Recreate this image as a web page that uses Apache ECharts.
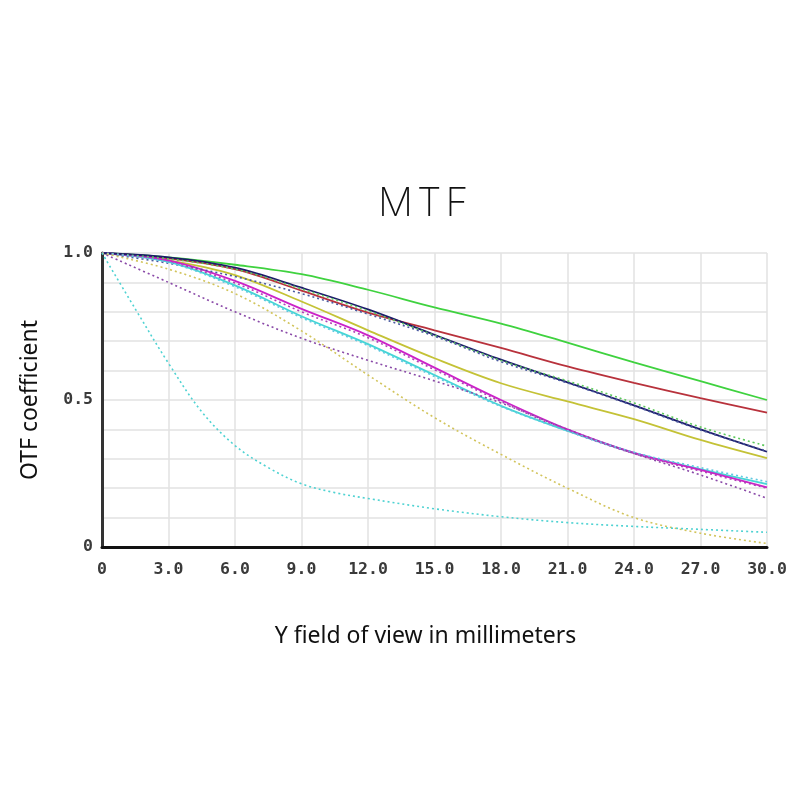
<!DOCTYPE html>
<html>
<head>
<meta charset="utf-8">
<script src="https://cdn.jsdelivr.net/npm/echarts@6/dist/echarts.min.js"></script>
<style>html,body{margin:0;padding:0;background:#fff}#c{width:810px;height:810px}</style>
</head>
<body>
<div id="c"></div>
<script>
// field positions (mm)
const fieldX = [0, 3, 6, 9, 12, 15, 18, 21, 24, 27, 30];
// solid curves
const greenSolid   = [1.0, 0.985, 0.96, 0.928, 0.875, 0.815, 0.76, 0.695, 0.628, 0.564, 0.50];
const redSolid     = [1.0, 0.982, 0.945, 0.872, 0.797, 0.737, 0.677, 0.614, 0.558, 0.506, 0.457];
const navySolid    = [1.0, 0.985, 0.95, 0.882, 0.808, 0.722, 0.637, 0.56, 0.482, 0.40, 0.324];
const oliveSolid   = [1.0, 0.975, 0.925, 0.835, 0.737, 0.642, 0.557, 0.495, 0.435, 0.364, 0.302];
const magentaSolid = [1.0, 0.975, 0.905, 0.81, 0.72, 0.61, 0.50, 0.40, 0.32, 0.262, 0.203];
const cyanSolid    = [1.0, 0.97, 0.89, 0.785, 0.69, 0.585, 0.48, 0.395, 0.32, 0.265, 0.214];
// dotted curves
const greenDotted  = [1.0, 0.98, 0.945, 0.878, 0.803, 0.72, 0.634, 0.565, 0.49, 0.408, 0.343];
const blueDotted   = [1.0, 0.965, 0.92, 0.862, 0.792, 0.717, 0.63, 0.558, 0.48, 0.398, 0.326];
const magentaDotted= [1.0, 0.97, 0.898, 0.80, 0.712, 0.603, 0.495, 0.396, 0.318, 0.258, 0.20];
const cyanDotted2  = [1.0, 0.968, 0.885, 0.78, 0.685, 0.58, 0.478, 0.395, 0.322, 0.27, 0.222];
const purpleDotted = [1.0, 0.90, 0.80, 0.71, 0.635, 0.565, 0.49, 0.40, 0.318, 0.245, 0.166];
const yellowDotted = [1.0, 0.945, 0.862, 0.735, 0.585, 0.44, 0.315, 0.20, 0.10, 0.047, 0.012];
// steep cyan dotted curve (own field positions)
const steepX      = [0, 1.5, 3, 4.5, 6, 7.5, 9, 10.5, 12, 15, 18, 21, 24, 27, 30];
const steepDotted = [1.0, 0.81, 0.625, 0.46, 0.345, 0.27, 0.215, 0.185, 0.165, 0.13, 0.103, 0.083, 0.07, 0.06, 0.05];

const titleLetters = ['M', 'T', 'F'];
const xTickLabels = {0: '0', 3: '3.0', 6: '6.0', 9: '9.0', 12: '12.0', 15: '15.0', 18: '18.0', 21: '21.0', 24: '24.0', 27: '27.0', 30: '30.0'};
const yTickLabels = {0: '0', 0.5: '0.5', 1: '1.0'};

function pairs(xs, ys) { return xs.map((x, i) => [x, ys[i]]); }
function solid(data, color) {
  return { type: 'line', data: pairs(fieldX, data), smooth: 0.35, showSymbol: false, symbol: 'none',
    lineStyle: { color: color, width: 1.8 }, z: 3 };
}
function dotted(xs, data, color) {
  return { type: 'line', data: pairs(xs, data), smooth: 0.35, showSymbol: false, symbol: 'none',
    lineStyle: { color: color, width: 1.6, type: [2, 3] }, z: 4 };
}

const chart = echarts.init(document.getElementById('c'));
chart.setOption({
  backgroundColor: '#fff',
  animation: false,
  title: {
    text: titleLetters.map(l => '{t|' + l + '}').join(''), left: 371, top: 180,
    textStyle: {
      rich: { t: { fontFamily: 'Inter', fontWeight: 200, fontSize: 39, color: '#111', padding: [0, 2, 0, 2] } }
    }
  },
  grid: { left: 102, top: 253, width: 665, height: 294 },
  xAxis: {
    type: 'value', min: 0, max: 30, interval: 3,
    name: 'Y field of view in millimeters', nameLocation: 'middle', nameGap: 78,
    nameTextStyle: { fontFamily: 'Noto Sans', fontSize: 23, color: '#111', padding: [0, 18, 0, 0] },
    axisLine: { show: true, onZero: false, lineStyle: { color: '#111', width: 3 } },
    axisTick: { show: false },
    axisLabel: { margin: 14, fontFamily: 'DejaVu Sans Mono', fontWeight: 'bold', fontSize: 16.5, color: '#3a3a3a',
      formatter: v => xTickLabels[v] !== undefined ? xTickLabels[v] : '' },
    splitLine: { show: true, lineStyle: { color: '#e2e2e2', width: 1.5 } }
  },
  yAxis: {
    type: 'value', min: 0, max: 1, interval: 0.1,
    name: 'OTF coefficient', nameLocation: 'middle', nameGap: 60,
    nameTextStyle: { fontFamily: 'Noto Sans', fontSize: 23, color: '#111' },
    axisLine: { show: true, lineStyle: { color: '#333', width: 3 } },
    axisTick: { show: false },
    axisLabel: { margin: 9, fontFamily: 'DejaVu Sans Mono', fontWeight: 'bold', fontSize: 16.5, color: '#3a3a3a',
      formatter: v => { const k = Math.round(v * 10) / 10; return yTickLabels[k] !== undefined ? yTickLabels[k] : ''; } },
    splitLine: { show: true, lineStyle: { color: '#e2e2e2', width: 1.5 } }
  },
  series: [
    solid(greenSolid, '#3fd23f'),
    solid(redSolid, '#b8323c'),
    solid(oliveSolid, '#c4c236'),
    solid(cyanSolid, '#45d6d6'),
    solid(magentaSolid, '#cc22c8'),
    solid(navySolid, '#1c1c6a'),
    dotted(fieldX, greenDotted, '#5cc85c'),
    dotted(fieldX, blueDotted, '#4a5aa0'),
    dotted(fieldX, magentaDotted, '#b040b8'),
    dotted(fieldX, cyanDotted2, '#60c8e0'),
    dotted(fieldX, purpleDotted, '#8a4aa8'),
    dotted(fieldX, yellowDotted, '#d2c45c'),
    dotted(steepX, steepDotted, '#4ed2d2')
  ]
});
</script>
</body>
</html>
